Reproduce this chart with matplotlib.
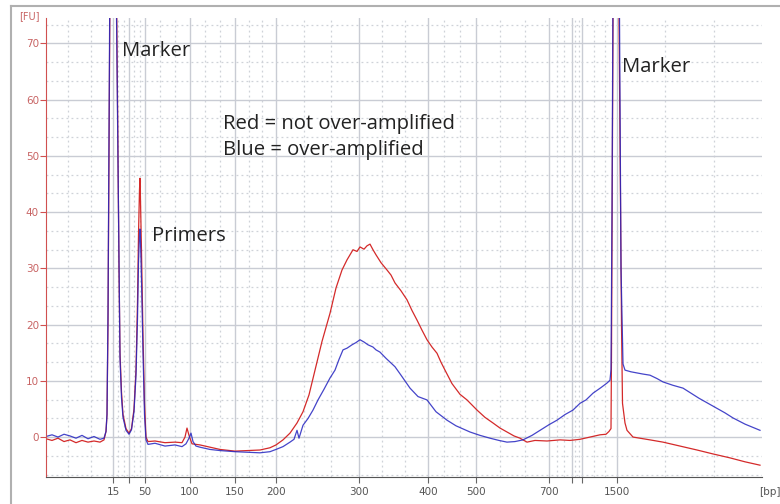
import matplotlib
matplotlib.use("Agg")
import matplotlib.pyplot as plt
from matplotlib.lines import Line2D

# Ladder: size (bp) and migration time (s)
ladder_bp = [15, 25, 50, 100, 150, 200, 300, 400, 500, 700, 850, 1000, 1500]
ladder_t = [46.7, 48.3, 49.9, 54.4, 58.9, 63.0, 71.3, 78.2, 83.0, 90.3, 92.6, 93.6, 97.1]
ladder_lab = ["15", "", "50", "100", "150", "200", "300", "400", "500", "700", "", "", "1500"]
t_min, t_max = 40.0, 111.6

# Red = not over-amplified
red_t = [40.0, 40.6, 41.2, 41.8, 42.4, 43.0, 43.6, 44.2, 44.8, 45.4, 45.8, 46.0, 46.1, 46.2, 46.3,
         46.4, 46.6, 46.75, 46.9, 47.05, 47.2, 47.3, 47.4, 47.55, 47.7, 48.0, 48.3, 48.55, 48.8,
         49.0, 49.15, 49.25, 49.35, 49.4, 49.45, 49.55, 49.7, 49.85, 50.0, 50.2, 50.9, 51.9, 52.9,
         53.6, 53.9, 54.1, 54.3, 54.6, 55.4, 56.4, 57.4, 58.9, 60.2, 61.4, 62.4, 63.0, 63.7, 64.4,
         65.1, 65.7, 66.3, 66.9, 67.6, 68.4, 69.0, 69.6, 70.1, 70.7, 71.1, 71.4, 71.8, 72.1, 72.4,
         72.7, 73.0, 73.5, 74.1, 74.5, 74.9, 75.5, 76.1, 76.6, 77.1, 77.6, 78.1, 78.6, 79.1, 79.5,
         79.9, 80.6, 81.4, 82.1, 83.1, 83.9, 84.7, 85.4, 86.1, 86.8, 87.4, 88.1, 88.9, 90.1, 91.4,
         92.4, 93.4, 94.4, 95.4, 96.0, 96.3, 96.5, 96.55, 96.7, 97.0, 97.3, 97.55, 97.65, 97.9,
         98.1, 98.7, 99.4, 100.4, 101.7, 103.4, 105.1, 106.7, 108.4, 109.9, 111.4]
red_fu = [-0.3, -0.6, -0.2, -0.8, -0.5, -1.0, -0.6, -0.9, -0.7, -0.9, -0.5, 1.0, 4, 20, 50,
          80, 140, 160, 130, 80, 50, 30, 15, 8, 4, 1.5, 0.7, 1.5, 5,
          12, 24, 36, 44, 46, 42, 33, 18, 6, 0.0, -0.8, -0.7, -1.0, -0.9,
          -1.0, 0.0, 1.6, 0.3, -1.2, -1.4, -1.8, -2.2, -2.5, -2.4, -2.3, -1.9, -1.4, -0.5, 0.7,
          2.5, 4.5, 7.5, 11.9, 17.0, 22.0, 26.5, 29.7, 31.5, 33.3, 33.0, 33.8, 33.4, 34.0, 34.3,
          33.3, 32.4, 31.0, 29.7, 28.8, 27.4, 26.0, 24.4, 22.5, 20.8, 19.0, 17.3, 16.0, 14.9, 13.3,
          11.9, 9.5, 7.6, 6.6, 4.8, 3.5, 2.5, 1.6, 0.9, 0.2, -0.2, -0.9, -0.6, -0.7, -0.5,
          -0.6, -0.4, 0.0, 0.4, 0.5, 1.0, 1.5, 15, 75, 160, 75, 20, 6, 2.5,
          1.2, 0.0, -0.2, -0.5, -0.9, -1.6, -2.3, -3.0, -3.7, -4.4, -5.0]

# Blue = over-amplified
blue_t = [40.0, 40.6, 41.2, 41.8, 42.4, 43.0, 43.6, 44.2, 44.8, 45.4, 45.8, 46.0, 46.1, 46.2, 46.3,
          46.4, 46.6, 46.75, 46.9, 47.05, 47.2, 47.3, 47.4, 47.55, 47.7, 48.0, 48.3, 48.55, 48.8,
          49.0, 49.15, 49.25, 49.35, 49.4, 49.45, 49.55, 49.7, 49.85, 50.0, 50.2, 50.9, 51.9, 52.9,
          53.6, 54.0, 54.3, 54.5, 54.7, 55.0, 55.4, 56.4, 57.4, 58.9, 60.2, 61.4, 62.4, 63.0, 63.7,
          64.4, 64.8, 65.1, 65.3, 65.7, 66.2, 66.7, 67.2, 67.8, 68.4, 68.9, 69.3, 69.7, 70.1, 70.6,
          71.0, 71.4, 71.8, 72.2, 72.7, 73.0, 73.4, 74.0, 74.9, 75.5, 76.4, 77.2, 78.1, 79.0, 80.1,
          81.0, 82.4, 83.4, 84.4, 85.3, 86.1, 86.9, 87.7, 88.6, 89.4, 90.3, 91.1, 91.9, 92.7, 93.4,
          94.0, 94.7, 95.5, 96.1, 96.4, 96.5, 96.6, 96.75, 97.0, 97.3, 97.5, 97.7, 97.9, 98.5, 99.1,
          99.7, 100.4, 101.1, 101.7, 102.7, 103.7, 104.5, 105.3, 106.2, 107.0, 107.9, 108.7, 109.9,
          111.4]
blue_fu = [0.1, 0.4, 0.0, 0.5, 0.2, -0.2, 0.3, -0.3, 0.1, -0.4, -0.2, 1.0, 4, 22, 55,
           85, 140, 150, 120, 75, 48, 28, 14, 7, 3.5, 1.2, 0.5, 1.3, 4.5,
           11, 21, 31, 36, 37, 35, 28, 15, 4, -0.5, -1.3, -1.1, -1.6, -1.4,
           -1.7, -1.2, -0.2, 0.7, -0.8, -1.6, -1.8, -2.2, -2.4, -2.6, -2.7, -2.8, -2.6, -2.2, -1.7,
           -0.9, -0.4, 1.2, -0.2, 2.1, 3.3, 4.8, 6.6, 8.5, 10.5, 11.9, 13.8, 15.5, 15.8, 16.4,
           16.8, 17.3, 16.9, 16.4, 16.0, 15.5, 15.1, 14.0, 12.5, 11.0, 8.7, 7.2, 6.6, 4.5, 3.0,
           2.0, 0.9, 0.3, -0.2, -0.6, -0.9, -0.8, -0.5, 0.3, 1.2, 2.2, 3.0, 4.0, 4.8, 6.0,
           6.6, 7.8, 8.8, 9.6, 10.1, 12, 40, 100, 150, 90, 30, 13, 11.9, 11.6, 11.4,
           11.2, 11.0, 10.4, 9.8, 9.2, 8.7, 7.8, 6.9, 6.0, 5.2, 4.3, 3.4, 2.3,
           1.2]

fig = plt.figure(figsize=(7.8, 5.04), dpi=100)
ax = fig.add_axes([46 / 780, 27 / 504, 716 / 780, 459 / 504])

ax.plot(red_t, red_fu, color="#d42a2a", lw=0.9)
ax.plot(blue_t, blue_fu, color="#2424c0", lw=0.9, alpha=0.85)

ax.set_xlim(t_min, t_max)

# grid: solid at ladder peaks / every 10 FU, dotted at thirds in between
edges = [t_min] + ladder_t + [t_max]
minor_x = []
for a, b in zip(edges[:-1], edges[1:]):
    minor_x += [a + (b - a) / 3, a + 2 * (b - a) / 3]
ax.set_xticks(ladder_t)
ax.set_xticklabels(ladder_lab)
ax.set_xticks(minor_x, minor=True)
ax.set_yticks(range(0, 71, 10))
ax.set_yticks([v + d for v in range(-10, 80, 10) for d in (10 / 3, 20 / 3)], minor=True)
ax.set_ylim(-7.1, 74.5)

ax.grid(which="major", color="#c9ccd4", lw=1.0, ls="-")
ax.grid(which="minor", color="#cfd2d8", lw=0.9, ls=(0, (1.5, 2.5)))
ax.set_axisbelow(True)

for s in ("top", "right"):
    ax.spines[s].set_visible(False)
ax.spines["left"].set_color("#d05050")
ax.spines["bottom"].set_color("#555555")
ax.tick_params(axis="y", which="major", colors="#d05050", labelcolor="#c86464",
               length=4, labelsize=7.5, pad=1)
ax.tick_params(axis="x", which="major", colors="#666666", labelcolor="#555555",
               length=4, labelsize=7.5, pad=3)
ax.tick_params(which="minor", length=0)

fig.text(19 / 780, 1 - 16 / 504, "[FU]", color="#c86464", fontsize=7, ha="left", va="center")
fig.text(770 / 780, 1 - 492 / 504, "[bp]", color="#555555", fontsize=7.5, ha="center", va="center")

# outer frame
fig.add_artist(Line2D([11 / 780, 11 / 780], [0, 1 - 6 / 504], color="#b0b0b0", lw=1.5))
fig.add_artist(Line2D([11 / 780, 1], [1 - 6 / 504, 1 - 6 / 504], color="#b0b0b0", lw=1.5))

fnt = dict(family="Open Sans", fontsize=14.6, color="#222222", va="center", ha="left")
ax.text(47.6, 68.7, "Marker", **fnt)
ax.text(97.6, 65.8, "Marker", **fnt)
ax.text(50.6, 35.8, "Primers", **fnt)
ax.text(57.7, 55.7, "Red = not over-amplified", **fnt)
ax.text(57.7, 51.0, "Blue = over-amplified", **fnt)

fig.savefig("out.png", dpi=100)
